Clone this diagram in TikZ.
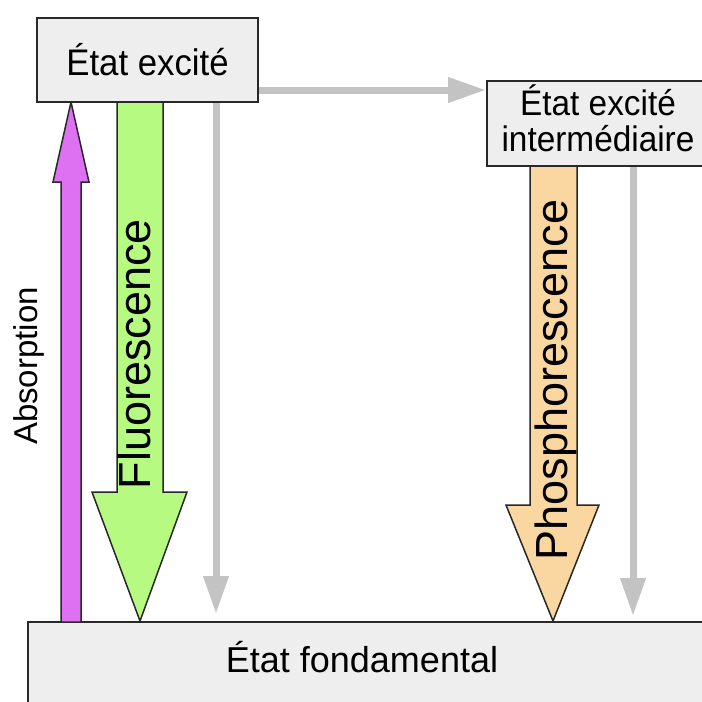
\documentclass[tikz,border=0pt]{standalone}
\usepackage{fontspec}
\setmainfont{Liberation Sans}
\newfontfamily\boxfont[FakeStretch=0.94]{Liberation Sans}
\usetikzlibrary{arrows.meta,calc}
\definecolor{boxfill}{RGB}{238,238,238}
\definecolor{edgec}{RGB}{40,40,40}
\definecolor{grayc}{RGB}{195,195,195}
\definecolor{purplec}{RGB}{222,112,242}
\definecolor{greenc}{RGB}{182,250,130}
\definecolor{orangec}{RGB}{250,215,160}
\begin{document}
\begin{tikzpicture}[x=1pt,y=-1pt,
  box/.style={draw=edgec,line width=2pt,fill=boxfill,inner sep=0pt,font=\boxfont\fontsize{37}{37}\selectfont},
  grayarrow/.style={draw=grayc,line width=7pt,-{Triangle[length=38pt,width=24pt]}},
  block/.style={draw=edgec,line width=1.5pt,line join=miter},
  vlabel/.style={rotate=90,inner sep=0pt,font=\fontsize{45}{45}\selectfont}]
\useasboundingbox (0,0) rectangle (702,702);
\fill[white] (0,0) rectangle (702,702);
\clip (0,0) rectangle (702,702);

% ground state
\draw[draw=edgec,line width=2pt,fill=boxfill] (28,622) rectangle (740,740);
\coordinate (gtop) at (0,622);
\node[font=\fontsize{36}{36}\selectfont,inner sep=0pt] (fondlbl) at (362,657) {État fondamental};

% gray arrows
\coordinate (hy) at (0,90);
\coordinate (g1) at (216,614);
\coordinate (g2) at (633,616);

% block arrows
\draw[block,fill=greenc] (117,102) -- (117,492) -- (92,492) -- (140,621) -- (187,492) -- (163,492) -- (163,102) -- cycle;
\draw[block,fill=purplec] (61,622) -- (61,182) -- (53,182) -- (71,102) -- (89,182) -- (81,182) -- (81,622) -- cycle;
\draw[block,fill=orangec] (530,166) -- (530,505) -- (506,505) -- (553,621) -- (599,505) -- (577,505) -- (577,166) -- cycle;

% boxes
\node[box,minimum width=221pt,minimum height=84pt] (exc) at (147.5,60) {\raisebox{2pt}{État excité}};
\node[box,minimum width=222pt,minimum height=85pt,font=\boxfont\fontsize{35.5}{33}\selectfont] (inter) at (598,123.5) {\raisebox{3pt}{\begin{tabular}{@{}c@{}}État excité\\intermédiaire\end{tabular}}};

\draw[grayarrow] (exc.east |- hy) -- (inter.west |- hy);
\draw[grayarrow] (g1 |- exc.south) -- (g1);
\draw[grayarrow] (g2 |- inter.south) -- (g2);

% labels
\node[rotate=90,inner sep=0pt,font=\fontsize{33}{33}\selectfont] (abs) at (29,366) {Absorption};
\node[vlabel] (fluo) at (134,354) {Fluorescence};
\node[vlabel] (phos) at (556,380) {Phosphorescence};
\end{tikzpicture}
\end{document}
